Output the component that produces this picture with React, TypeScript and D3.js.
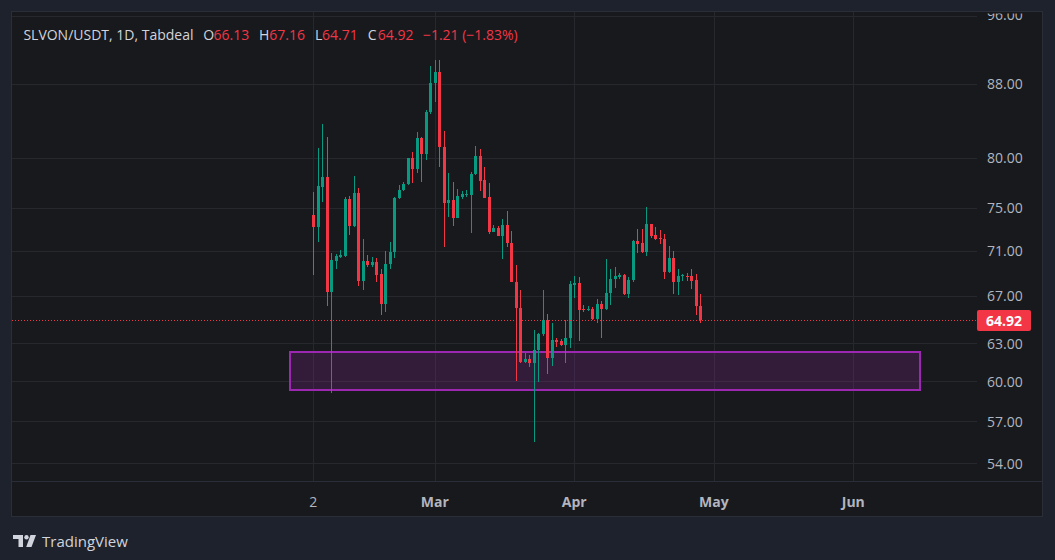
import React from "react";
import * as d3 from "d3";

// OHLC data (daily candles, first candle on "2")
const opens = [
  74.30, 73.20, 77.07, 78.04, 67.31, 70.06, 70.42, 70.50, 75.85, 73.29,
  76.44, 68.29, 70.03, 69.68, 69.94, 68.88, 66.26, 69.77, 70.83, 75.95,
  76.74, 77.34, 79.93, 78.86, 82.08, 80.39, 84.89, 88.02, 89.32, 81.14,
  75.48, 75.75, 74.04, 76.08, 76.24, 76.27, 78.34, 80.14, 77.74, 76.05,
  72.73, 73.10, 72.35, 73.36, 71.69, 68.20, 65.95, 61.50, 61.74, 61.42,
  62.45, 63.75, 64.92, 61.84, 63.25, 63.17, 62.87, 63.42, 67.91, 68.08,
  65.87, 65.79, 65.84, 65.00, 66.26, 65.84, 67.24, 68.44, 68.61, 68.79,
  67.15, 68.35, 71.86, 71.67, 70.83, 73.45, 72.42, 72.14, 72.04, 69.06,
  70.30, 68.17, 68.70, 68.75, 68.70, 68.35, 66.13,
];
const highs = [
  76.54, 81.00, 83.60, 82.19, 70.74, 70.72, 71.01, 76.08, 76.15, 78.14,
  76.94, 72.04, 70.57, 70.39, 70.30, 69.32, 70.92, 71.76, 76.05, 77.24,
  77.54, 80.00, 80.57, 82.73, 82.15, 85.11, 90.03, 90.74, 90.74, 82.84,
  78.44, 77.54, 76.84, 76.64, 76.74, 78.54, 81.22, 80.90, 79.03, 77.44,
  73.36, 73.26, 73.92, 74.67, 72.79, 69.68, 67.46, 62.21, 62.05, 64.09,
  63.84, 67.46, 65.43, 64.67, 63.42, 63.33, 64.92, 68.26, 68.70, 68.61,
  66.18, 66.09, 66.01, 66.68, 66.51, 70.21, 69.32, 69.50, 68.97, 68.88,
  68.61, 71.95, 72.98, 72.98, 75.05, 73.50, 73.17, 72.89, 72.51, 71.39,
  70.92, 69.32, 68.88, 68.97, 69.32, 68.88, 67.16,
];
const lows = [
  68.79, 71.79, 75.58, 66.12, 59.08, 69.35, 70.36, 70.42, 72.42, 73.20,
  67.84, 67.49, 69.53, 69.53, 68.20, 65.37, 65.62, 69.35, 70.33, 75.85,
  76.64, 77.20, 77.47, 78.47, 77.57, 79.73, 84.60, 85.90, 79.06, 71.32,
  74.14, 73.29, 74.00, 75.88, 76.08, 72.63, 78.24, 76.67, 75.95, 72.54,
  72.70, 72.32, 70.24, 71.32, 68.15, 60.03, 61.45, 61.45, 61.13, 55.51,
  59.95, 63.59, 60.58, 61.21, 62.71, 62.79, 61.45, 62.63, 66.79, 63.19,
  65.62, 65.70, 64.95, 64.70, 63.44, 65.80, 66.18, 67.64, 68.44, 67.06,
  66.77, 68.17, 70.74, 70.74, 70.48, 72.14, 72.00, 71.58, 68.44, 69.00,
  67.15, 67.06, 68.26, 68.26, 67.55, 65.35, 64.71,
];
const closes = [
  73.20, 77.14, 78.04, 67.31, 70.12, 70.48, 70.57, 75.85, 73.29, 76.44,
  68.29, 70.03, 69.68, 69.94, 68.82, 66.26, 69.77, 70.83, 75.95, 76.74,
  77.34, 79.93, 78.86, 82.08, 80.39, 84.89, 88.02, 89.32, 81.14, 75.48,
  75.75, 74.04, 76.15, 76.34, 76.34, 78.34, 80.14, 77.67, 75.98, 72.73,
  73.10, 72.35, 73.36, 71.69, 68.20, 65.95, 61.50, 61.74, 61.42, 62.45,
  63.75, 64.92, 61.84, 63.25, 63.08, 62.87, 63.42, 67.99, 68.08, 65.76,
  65.79, 65.87, 65.00, 66.26, 65.84, 67.24, 68.44, 68.70, 68.79, 67.15,
  68.35, 71.86, 71.58, 70.83, 73.45, 72.32, 72.04, 72.04, 69.06, 70.30,
  68.17, 68.70, 68.79, 68.61, 68.26, 66.09, 64.92,
];

const priceTicks = [54, 57, 60, 63, 67, 71, 75, 80, 88, 96];
const timeTickLabels = ["2", "Mar", "Apr", "May", "Jun"];
const timeTickIndex = [0, 27, 58, 89, 120];
const timeTickBold = [false, true, true, true, true];

// Purple support zone (bar index range, price range)
const zoneStart = -5.2;
const zoneEnd = 134.9;
const zoneTop = 62.3;
const zoneBottom = 59.35;

const lastPrice = 64.92;
const headerSymbol = "SLVON/USDT, 1D, Tabdeal";
const headerLabels = ["O", "H", "L", "C"];
const headerValues = ["66.13", "67.16", "64.71", "64.92"];
const headerChange = "\u22121.21 (\u22121.83%)";

const UP = "#089981";
const DOWN = "#f23645";
const FONT = "'Open Sans', sans-serif";

export default function App() {
  const W = 1055;
  const H = 560;
  const panel = { l: 12, t: 12, r: 1042, b: 516 };
  const plotR = 977;
  const plotB = 481;

  const x = d3.scaleLinear().domain([0, 86]).range([313.3, 700.3]);
  const y = d3.scaleLog().domain([54, 96]).range([463.3, 16.0]);

  const headerLabelX = [203.2, 259, 315, 367.8];
  const headerValueX = [213.5, 269.3, 322, 377.8];

  const lastY = Math.round(y(lastPrice));

  return (
    <svg
      width={W}
      height={H}
      style={{ position: "absolute", left: 0, top: 0, display: "block" }}
      fontFamily={FONT}
    >
      <defs>
        <clipPath id="plotClip">
          <rect x={panel.l} y={panel.t} width={plotR - panel.l} height={plotB - panel.t} />
        </clipPath>
        <clipPath id="axisClip">
          <rect x={plotR} y={13.4} width={panel.r - plotR} height={plotB - 13.4} />
        </clipPath>
      </defs>
      <rect x={0} y={0} width={W} height={H} fill="#1e222d" />
      <rect
        x={panel.l - 0.5}
        y={panel.t - 0.5}
        width={panel.r - panel.l + 1}
        height={panel.b - panel.t + 1}
        fill="#18191d"
        stroke="#2a2e39"
        strokeWidth={1}
      />

      <g clipPath="url(#plotClip)" shapeRendering="crispEdges">
        {priceTicks.map((p) => (
          <line
            key={"hg" + p}
            x1={panel.l}
            x2={plotR}
            y1={Math.round(y(p)) + 0.5}
            y2={Math.round(y(p)) + 0.5}
            stroke="#26282d"
          />
        ))}
        {timeTickIndex.map((i) => (
          <line
            key={"vg" + i}
            x1={Math.round(x(i)) + 0.5}
            x2={Math.round(x(i)) + 0.5}
            y1={panel.t}
            y2={plotB}
            stroke="#26282d"
          />
        ))}
        <rect
          x={x(zoneStart)}
          y={y(zoneTop)}
          width={x(zoneEnd) - x(zoneStart)}
          height={y(zoneBottom) - y(zoneTop)}
          fill="rgba(156,39,176,0.2)"
          stroke="#9c27b0"
          strokeWidth={2}
        />
        {opens.map((o, i) => {
          const c = closes[i];
          const hi = highs[i];
          const lo = lows[i];
          const col = c >= o ? UP : DOWN;
          const xc = Math.round(x(i));
          const top = Math.round(y(Math.max(o, c)));
          const bot = Math.round(y(Math.min(o, c)));
          const wt = Math.round(y(hi));
          const wb = Math.round(y(lo));
          return (
            <g key={i} fill={col}>
              <rect x={xc} y={wt} width={1} height={Math.max(1, wb - wt)} />
              <rect x={xc - 1} y={top} width={3} height={Math.max(1, bot - top)} />
            </g>
          );
        })}
        <line
          x1={panel.l}
          x2={plotR}
          y1={lastY + 0.5}
          y2={lastY + 0.5}
          stroke={DOWN}
          strokeWidth={1}
          strokeDasharray="1 2"
        />
      </g>

      {/* time axis border */}
      <line
        x1={panel.l}
        x2={panel.r}
        y1={plotB + 0.5}
        y2={plotB + 0.5}
        stroke="#2a2e39"
        shapeRendering="crispEdges"
      />

      {/* price axis labels */}
      <g clipPath="url(#axisClip)" fontSize={14} fill="#b2b5be">
        {priceTicks.map((p) => (
          <text key={"pl" + p} x={987} y={p === 96 ? y(p) - 1.4 : y(p)} dominantBaseline="central">
            {p.toFixed(2)}
          </text>
        ))}
        <rect x={977} y={lastY - 10} width={54} height={21} rx={2} fill={DOWN} />
        <text
          x={1004}
          y={lastY + 0.5}
          textAnchor="middle"
          dominantBaseline="central"
          fill="#ffffff"
          fontWeight={700}
        >
          {lastPrice.toFixed(2)}
        </text>
      </g>

      {/* time axis labels */}
      <g fontSize={14} fill="#b2b5be">
        {timeTickIndex.map((i, k) => (
          <text
            key={"tl" + i}
            x={x(i)}
            y={501}
            textAnchor="middle"
            dominantBaseline="central"
            fontWeight={timeTickBold[k] ? 700 : 400}
          >
            {timeTickLabels[k]}
          </text>
        ))}
      </g>

      {/* header legend */}
      <g fontSize={14}>
        <text x={23.4} y={34} dominantBaseline="central" fill="#d1d4dc">
          {headerSymbol}
        </text>
        {headerLabels.map((lab, k) => (
          <g key={lab}>
            <text x={headerLabelX[k]} y={34} dominantBaseline="central" fill="#d1d4dc">
              {lab}
            </text>
            <text x={headerValueX[k]} y={34} dominantBaseline="central" fill={DOWN}>
              {headerValues[k]}
            </text>
          </g>
        ))}
        <text x={422.9} y={34} dominantBaseline="central" fill={DOWN}>
          {headerChange}
        </text>
      </g>

      {/* TradingView logo */}
      <g fill="#d1d4dc">
        <path d="M13 535 H23 V547 H18.5 V539 H13 Z" />
        <circle cx={26.5} cy={537.2} r={2.2} />
        <path d="M30.5 535 H36 L31.5 547 H26.2 Z" />
        <text x={42} y={541} fontSize={15} dominantBaseline="central">
          TradingView
        </text>
      </g>
    </svg>
  );
}
